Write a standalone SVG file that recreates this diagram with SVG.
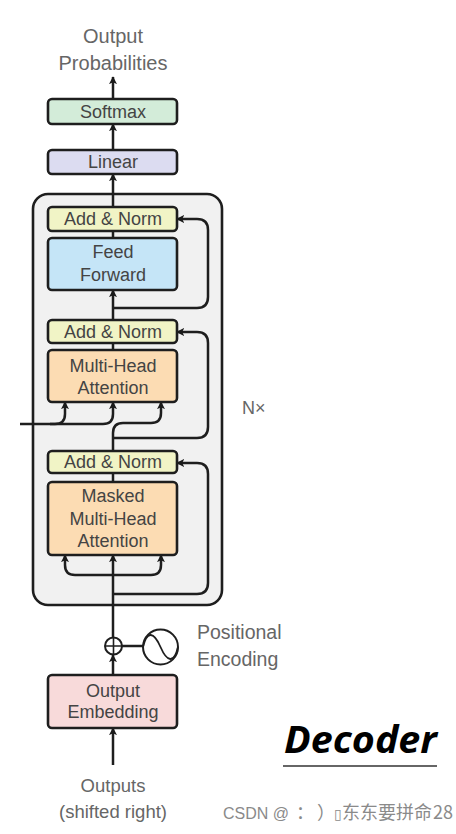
<svg xmlns="http://www.w3.org/2000/svg" width="456" height="834" viewBox="0 0 456 834">
<defs>
<marker id="ah" viewBox="0 0 10 10" refX="9" refY="5" markerWidth="8" markerHeight="8" markerUnits="userSpaceOnUse" orient="auto">
<path d="M0,0 L10,5 L0,10 L2.5,5 z" fill="#1a1a1a"/>
</marker>
<style>
.box{stroke:#1e1e1e;stroke-width:2.6}
.t{font-family:"Liberation Sans",Arial,sans-serif;font-size:18px;fill:#444;text-anchor:middle}
.g{font-family:"Liberation Sans",Arial,sans-serif;fill:#666}
.ln{fill:none;stroke:#1e1e1e;stroke-width:2.5}
.ar{fill:none;stroke:#1e1e1e;stroke-width:2.5;marker-end:url(#ah)}
.an{fill:#f1f4c6}
.mh{fill:#fcdcb3}
.wm{font-family:"Noto Sans CJK SC",sans-serif;font-size:18px;fill:#8a8a8a}
</style>
</defs>
<rect width="456" height="834" fill="#ffffff"/>

<g id="output-probabilities">
<text class="g" x="113" y="43" font-size="20" text-anchor="middle">Output</text>
<text class="g" x="113" y="70" font-size="20" text-anchor="middle">Probabilities</text>
</g>

<g id="decoder-stack">
<rect x="33" y="194" width="189" height="411" rx="15" fill="#f1f1f1" stroke="#1e1e1e" stroke-width="2.6"/>
<text class="g" x="242" y="414" font-size="18">N×</text>
</g>

<g id="connectors">
<path class="ar" d="M113,99 V77"/>
<path class="ar" d="M113,150 V124"/>
<path class="ar" d="M113,207 V174"/>
<path class="ln" d="M113,231 V238"/>
<path class="ar" d="M113,320 V290"/>
<path class="ln" d="M113,343 V350"/>
<path class="ln" d="M113,473 V482"/>
<path class="ar" d="M113,638 V555"/>
<path class="ar" d="M113,675 V655"/>
<path class="ar" d="M113,765 V728"/>
<path class="ar" d="M113,575 H75 Q65,575 65,565 V555"/>
<path class="ar" d="M113,575 H151 Q161,575 161,565 V555"/>
<path class="ar" d="M113,594 H197 Q208,594 208,583 V474 Q208,463 197,463 H177"/>
<path class="ar" d="M113,438 H197 Q208,438 208,427 V343 Q208,332 197,332 H177"/>
<path class="ar" d="M113,308 H197 Q208,308 208,297 V230 Q208,219 197,219 H177"/>
<path class="ar" d="M20,424 H103 Q113,424 113,414 V402"/>
<path class="ar" d="M50,424 H55 Q65,424 65,414 V402"/>
<path class="ar" d="M113,451 V433 Q113,423 123,423 H151 Q161,423 161,413 V402"/>
<path class="ln" d="M122,646 H143"/>
</g>

<g id="softmax">
<rect class="box" x="48" y="99" width="129" height="25" rx="4" fill="#d3ecd9"/>
<text class="t" x="113" y="118">Softmax</text>
</g>
<g id="linear">
<rect class="box" x="48" y="150" width="129" height="24" rx="4" fill="#dcdcf1"/>
<text class="t" x="113" y="168">Linear</text>
</g>
<g id="add-norm-1">
<rect class="box an" x="48" y="207" width="129" height="24" rx="4"/>
<text class="t" x="113" y="225">Add &amp; Norm</text>
</g>
<g id="feed-forward">
<rect class="box" x="48" y="238" width="129" height="52" rx="4" fill="#c5e5f7"/>
<text class="t" x="113" y="258">Feed</text>
<text class="t" x="113" y="281">Forward</text>
</g>
<g id="add-norm-2">
<rect class="box an" x="48" y="320" width="129" height="23" rx="4"/>
<text class="t" x="113" y="338">Add &amp; Norm</text>
</g>
<g id="multi-head-attention">
<rect class="box mh" x="48" y="350" width="129" height="52" rx="4"/>
<text class="t" x="113" y="372">Multi-Head</text>
<text class="t" x="113" y="394">Attention</text>
</g>
<g id="add-norm-3">
<rect class="box an" x="48" y="451" width="129" height="22" rx="4"/>
<text class="t" x="113" y="468">Add &amp; Norm</text>
</g>
<g id="masked-multi-head-attention">
<rect class="box mh" x="48" y="482" width="129" height="73" rx="4"/>
<text class="t" x="113" y="502">Masked</text>
<text class="t" x="113" y="525">Multi-Head</text>
<text class="t" x="113" y="547">Attention</text>
</g>
<g id="add-op">
<circle cx="113.5" cy="646" r="8.5" fill="none" stroke="#1e1e1e" stroke-width="2"/>
<path d="M105,646 H122 M113.5,637.5 V654.5" stroke="#1e1e1e" stroke-width="1.6" fill="none"/>
</g>
<g id="positional-encoding">
<circle cx="160.5" cy="647" r="17.5" fill="#ffffff" stroke="#1e1e1e" stroke-width="2"/>
<path d="M143,647 C147,630 154,632 160.5,647 S174,664 178,647" fill="none" stroke="#1e1e1e" stroke-width="1.8"/>
<text class="g" x="197" y="639" font-size="19.5">Positional</text>
<text class="g" x="197" y="666" font-size="19.5">Encoding</text>
</g>
<g id="output-embedding">
<rect class="box" x="48" y="675" width="129" height="53" rx="4" fill="#f8dada"/>
<text class="t" x="113" y="697">Output</text>
<text class="t" x="113" y="718">Embedding</text>
</g>
<g id="outputs">
<text class="g" x="113" y="792" font-size="18.5" text-anchor="middle">Outputs</text>
<text class="g" x="113" y="818" font-size="18.5" text-anchor="middle">(shifted right)</text>
</g>
<g id="decoder-title">
<text x="284" y="753" font-family="'Open Sans','DejaVu Sans',sans-serif" font-weight="bold" font-style="italic" font-size="37" textLength="153" lengthAdjust="spacingAndGlyphs" fill="#000">Decoder</text>
<line x1="283" y1="766" x2="437" y2="766" stroke="#333" stroke-width="1.6"/>
</g>
<g id="watermark">
<text class="wm" y="819"><tspan x="223" font-family="'Liberation Sans',sans-serif" font-size="16">CSDN @</tspan><tspan x="296">：</tspan><tspan x="317">）</tspan><tspan x="334" font-size="14">▯</tspan><tspan x="342">东东要拼命</tspan><tspan x="433">28</tspan></text>
</g>
</svg>
